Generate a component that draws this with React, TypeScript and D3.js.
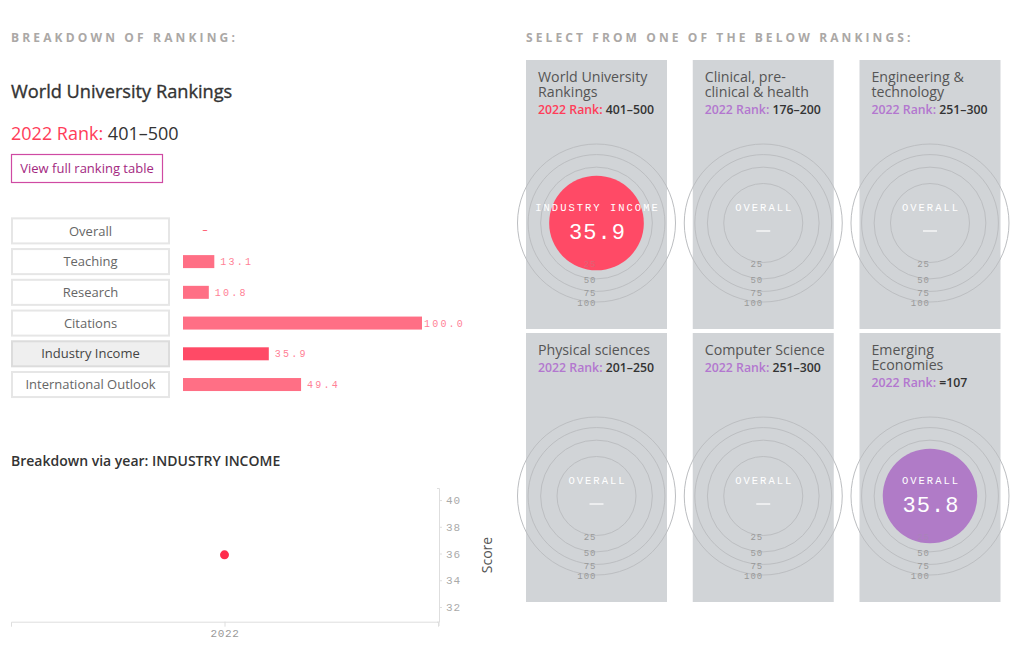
import React, { useEffect, useRef } from "react";
import * as d3 from "d3";

// ---------- data ----------
const categories = ["Overall", "Teaching", "Research", "Citations", "Industry Income", "International Outlook"];
const categoryScores: (number | null)[] = [null, 13.1, 10.8, 100.0, 35.9, 49.4];
const selectedCategory = "Industry Income";

const years = ["2022"];
const yearScores = [35.9];
const yTicks = [32, 34, 36, 38, 40];

const rankingTitles: string[][] = [
  ["World University", "Rankings"],
  ["Clinical, pre-", "clinical & health"],
  ["Engineering &", "technology"],
  ["Physical sciences"],
  ["Computer Science"],
  ["Emerging", "Economies"],
];
const rankingRanks = ["401–500", "176–200", "251–300", "201–250", "251–300", "=107"];
const rankingMetrics = ["INDUSTRY INCOME", "OVERALL", "OVERALL", "OVERALL", "OVERALL", "OVERALL"];
const rankingValues: (number | null)[] = [35.9, null, null, null, null, 35.8];
const ringValues = [25, 50, 75, 100];

// ---------- style ----------
const SANS = "'Open Sans', 'Noto Sans', sans-serif";
const MONO = "'Liberation Mono', 'DejaVu Sans Mono', monospace";
const RED = "#ff3d59";
const PURPLE = "#b377cf";
const CARD_BG = "#d1d4d7";

function BottomChart() {
  const ref = useRef<SVGGElement>(null);
  const x = d3.scalePoint<string>().domain(years).range([11, 438]).padding(0.5);
  const y = d3.scaleLinear().domain([30.9, 40.9]).range([621.7, 488]);
  useEffect(() => {
    const g = d3.select(ref.current);
    g.selectAll("*").remove();
    const xa = g.append("g").attr("transform", "translate(0,621.7)")
      .call(d3.axisBottom(x).tickSize(5).tickSizeOuter(5));
    xa.select(".domain").attr("stroke", "#dedede");
    xa.selectAll(".tick line").attr("stroke", "#dedede");
    xa.selectAll(".tick text").attr("fill", "#999").attr("font-family", MONO)
      .attr("font-size", 11).attr("letter-spacing", 0.6).attr("dy", "0.6em").attr("y", 9);
    const ya = g.append("g").attr("transform", "translate(439,0)")
      .call(d3.axisRight(y).tickValues(yTicks).tickSize(3).tickSizeOuter(-2));
    ya.select(".domain").attr("stroke", "#dedede");
    ya.selectAll(".tick line").attr("stroke", "#dedede");
    ya.selectAll(".tick text").attr("fill", "#aaa").attr("font-family", MONO)
      .attr("font-size", 11).attr("letter-spacing", 1).attr("x", 7);
    g.append("line").attr("x1", 439).attr("x2", 439).attr("y1", 621.7).attr("y2", 626).attr("stroke", "#dedede");
  }, []);
  return (
    <g>
      <text x={11} y={466} fontFamily={SANS} fontSize={14} fill="#333" fontWeight={600}>
        Breakdown via year: INDUSTRY INCOME
      </text>
      <g ref={ref} />
      {years.map((yr, i) => (
        <circle key={yr} cx={x(yr)} cy={y(yearScores[i])} r={4.5} fill="#ff2d4d" />
      ))}
      <text transform="translate(492,555) rotate(-90)" textAnchor="middle" fontFamily={SANS}
        fontSize={14} fill="#555">Score</text>
    </g>
  );
}

function Bars() {
  const band = d3.scaleBand<string>().domain(categories).range([215.5, 399.9]).paddingInner(0.12).paddingOuter(0.06);
  const xs = d3.scaleLinear().domain([0, 100]).range([183, 422]);
  return (
    <g>
      {categories.map((c, i) => {
        const y0 = band(c)!;
        const bw = band.bandwidth();
        const cy = y0 + bw / 2;
        const sel = c === selectedCategory;
        const v = categoryScores[i];
        return (
          <g key={c}>
            <rect x={12} y={y0 + 1} width={157} height={bw - 2} fill={sel ? "#efefef" : "#fff"}
              stroke={sel ? "#dcdcdc" : "#e6e6e6"} strokeWidth={2} />
            <text x={90.5} y={cy} dy="0.36em" textAnchor="middle" fontFamily={SANS} fontSize={13}
              fill={sel ? "#444" : "#666"}>{c}</text>
            {v == null ? (
              <text x={205} y={cy - 1} dy="0.36em" textAnchor="middle" fontFamily={MONO} fontSize={10} fill={RED}>–</text>
            ) : (
              <>
                <rect x={xs(0)} y={cy - 6.5} width={xs(v) - xs(0)} height={13}
                  fill={sel ? "#ff4a66" : "#ff6f85"} />
                <text x={Math.min(xs(v) + 6, 424)} y={cy} dy="0.36em" fontFamily={MONO} fontSize={10}
                  letterSpacing={2.2} fill="#ff8196">{v.toFixed(1)}</text>
              </>
            )}
          </g>
        );
      })}
    </g>
  );
}

function Cards() {
  const col = d3.scaleBand<number>().domain([0, 1, 2]).range([526, 1000.5]).paddingInner(0.1544);
  const row = d3.scaleBand<number>().domain([0, 1]).range([60, 602]).paddingInner(0.0147);
  const r = d3.scaleSqrt().domain([0, 100]).range([0, 79]);
  const cards = rankingTitles.map((t, i) => ({ i, c: i % 3, rw: Math.floor(i / 3) }));
  return (
    <g>
      {cards.map(({ i, c, rw }) => (
        <rect key={"bg" + i} x={col(c)} y={row(rw)} width={col.bandwidth()} height={row.bandwidth()} fill={CARD_BG} />
      ))}
      {cards.map(({ i, c, rw }) => {
        const x0 = col(c)!;
        const y0 = row(rw)!;
        const cx = x0 + col.bandwidth() / 2;
        const cy = y0 + 163;
        const title = rankingTitles[i];
        const v = rankingValues[i];
        const accent = i === 0 ? RED : PURPLE;
        const fillC = i === 0 ? "#ff4a66" : "#b07bc7";
        return (
          <g key={"card" + i}>
            <text x={x0 + 12} y={y0 + 21.5} fontFamily={SANS} fontSize={14.2} fill="#555">
              {title.map((line, k) => (
                <tspan key={k} x={x0 + 12} dy={k === 0 ? 0 : 15}>{line}</tspan>
              ))}
            </text>
            <text x={x0 + 12} y={y0 + 21.5 + (title.length - 1) * 15 + 17} fontFamily={SANS} fontSize={12.3} fontWeight={600}>
              <tspan fill={accent}>2022 Rank: </tspan>
              <tspan fill="#333">{rankingRanks[i]}</tspan>
            </text>
            {ringValues.map((rv) => (
              <circle key={rv} cx={cx} cy={cy} r={r(rv)} fill="none" stroke="#bcbec1" strokeWidth={1} />
            ))}
            {v != null && <circle cx={cx} cy={cy} r={r(v)} fill={fillC} />}
            {ringValues.map((rv) => (
              <text key={"l" + rv} x={cx} y={cy + r(rv) + 1} dy="0.35em" textAnchor="end" fontFamily={MONO}
                fontSize={9} letterSpacing={1} fill="#999" opacity={v != null && r(rv) < r(v) ? 0.3 : 1}>{rv}</text>
            ))}
            <text x={cx + 1} y={cy - 16} dy="0.35em" textAnchor="middle" fontFamily={MONO} fontSize={10.5}
              letterSpacing={2} fill="#fff">{rankingMetrics[i]}</text>
            {v != null ? (
              <text x={cx + 1} y={cy + 8} dy="0.35em" textAnchor="middle" fontFamily={MONO} fontSize={22}
                letterSpacing={1} fill="#fff">{v.toFixed(1)}</text>
            ) : (
              <line x1={cx - 7} x2={cx + 7} y1={cy + 8} y2={cy + 8} stroke="#fff" strokeWidth={1.2} />
            )}
          </g>
        );
      })}
    </g>
  );
}

export default function App() {
  return (
    <svg width={1024} height={662} style={{ position: "absolute", left: 0, top: 0, background: "#fff" }}>
      <text x={11} y={42} fontFamily={SANS} fontSize={12} fontWeight={700} letterSpacing={3.15} fill="#aba8a6">
        BREAKDOWN OF RANKING:
      </text>
      <text x={526} y={42} fontFamily={SANS} fontSize={12} fontWeight={700} letterSpacing={3.1} fill="#aba8a6">
        SELECT FROM ONE OF THE BELOW RANKINGS:
      </text>
      <text x={11} y={98} fontFamily={SANS} fontSize={18.2} fontWeight={500} fill="#333" stroke="#333" strokeWidth={0.35}>
        World University Rankings
      </text>
      <text x={11} y={140} fontFamily={SANS} fontSize={18} fontWeight={500}>
        <tspan fill={RED}>2022 Rank: </tspan>
        <tspan fill="#333">401–500</tspan>
      </text>
      <rect x={11.5} y={154.5} width={151} height={28} fill="#fff" stroke="#cf4aa3" strokeWidth={1.2} />
      <text x={87} y={168.5} dy="0.36em" textAnchor="middle" fontFamily={SANS} fontSize={13} fill="#a3287f">
        View full ranking table
      </text>
      <Bars />
      <BottomChart />
      <Cards />
    </svg>
  );
}
